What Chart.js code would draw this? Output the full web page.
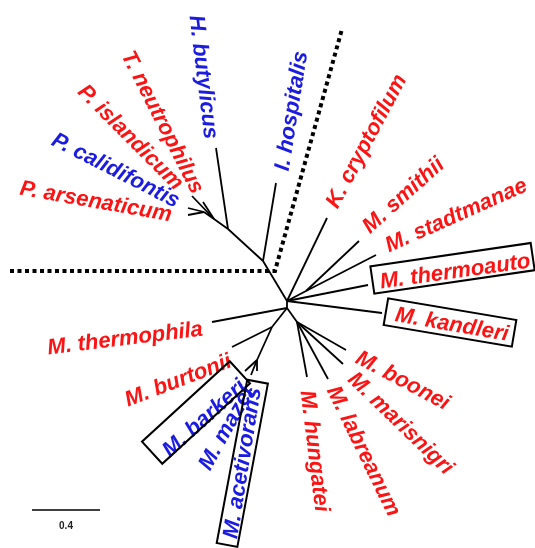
<!DOCTYPE html>
<html>
<head>
<meta charset="utf-8">
<script src="https://cdn.jsdelivr.net/npm/chart.js@4"></script>
<style>
  html, body { margin: 0; padding: 0; background: #ffffff; }
  #wrap { width: 535px; height: 548px; }
</style>
</head>
<body>
<div id="wrap"><canvas id="c" width="535" height="548"></canvas></div>
<script>
// ---------- DATA (tree layout coordinates, unrooted tree) ----------
// internal nodes
const innerName   = ['A', 'B', 'I', 'H', 'P', 'Q', 'S', 'C', 'D', 'E'];
const innerX      = [287, 287, 263, 228, 214, 204, 306, 272, 257, 297];
const innerY      = [301, 308, 261, 229, 219, 212, 291, 327, 360, 322];
const innerParent = [null, 'A', 'A', 'I', 'H', 'P', 'A', 'B', 'C', 'B'];

// leaves (taxa)
const taxa = ['H. butylicus', 'T. neutrophilus', 'P. islandicum', 'P. calidifontis', 'P. arsenaticum',
              'I. hospitalis', 'K. cryptofilum', 'M. smithii', 'M. stadtmanae', 'M. thermoauto',
              'M. kandleri', 'M. boonei', 'M. marisnigri', 'M. labreanum', 'M. hungatei',
              'M. thermophila', 'M. burtonii', 'M. barkeri', 'M. mazei', 'M. acetivorans'];
const taxaX      = [216, 192, 203, 188, 188, 276, 327, 359, 376, 368, 382, 346, 343, 328, 307, 212, 232, 245, 251, 257];
const taxaY      = [148, 196, 202, 208, 215, 183, 218, 241, 255, 285, 313, 350, 364, 379, 377, 322, 347, 371, 375, 371];
const taxaParent = ['H', 'P', 'P', 'Q', 'Q', 'I', 'A', 'S', 'S', 'A', 'A', 'E', 'E', 'E', 'E', 'B', 'C', 'D', 'D', 'D'];
const taxaSet    = [1, 0, 0, 1, 0, 1, 0, 0, 0, 0, 0, 0, 0, 0, 0, 0, 0, 1, 1, 1]; // 1 = blue set, 0 = red set
const taxaBoxed  = [0, 0, 0, 0, 0, 0, 0, 0, 0, 1, 1, 0, 0, 0, 0, 0, 0, 1, 0, 1];

// dotted divider
const dividerX = [10, 275, 342];
const dividerY = [271, 271, 29];

// scale bar
const scaleBarLabel = '0.4';
const scaleBarX = [32, 100];
const scaleBarY = [510, 510];

// ---------- LAYOUT (label placement) ----------
// [centerX, centerY, angleDeg]
const labelLayout = [
  [204, 77, 83], [163, 122, 63], [131, 137, 45], [116, 170, 27], [96, 201, 10],
  [291, 111, -81], [366, 141, -62], [403, 195, -42], [456, 215, -24], [455, 271, -8],
  [452, 324, 10], [403, 380, 28], [401, 423, 44], [364, 451, 64], [315, 451, 83],
  [125, 338, -7], [178, 380, -21], [204, 418, -42], [226, 428, -61], [242, 463, -81]
];
// boxes: [centerX, centerY, angleDeg, width, height] (null = none)
const boxLayout = [
  null, null, null, null, null, null, null, null, null,
  [452.5, 268.3, -8.3, 162, 27.5],
  [450, 322.5, 9.6, 130, 27],
  null, null, null, null, null, null,
  [196, 412.5, -42.5, 119, 30],
  null,
  [242.3, 463.3, -79.4, 166, 21]
];

const RED = '#fb1414';
const BLUE = '#1c1ce0';
const LABEL_FONT = 'italic bold 22px "Liberation Sans", Arial, sans-serif';

// ---------- build datasets ----------
function nodePos(name) {
  const i = innerName.indexOf(name);
  return { x: innerX[i], y: innerY[i] };
}
const datasets = [];
innerName.forEach((n, i) => {
  if (innerParent[i] === null) return;
  datasets.push({
    data: [nodePos(innerParent[i]), { x: innerX[i], y: innerY[i] }],
    showLine: true, pointRadius: 0, borderColor: '#000', borderWidth: 1.8, fill: false
  });
});
taxa.forEach((t, i) => {
  datasets.push({
    data: [nodePos(taxaParent[i]), { x: taxaX[i], y: taxaY[i] }],
    showLine: true, pointRadius: 0, borderColor: '#000', borderWidth: 1.8, fill: false
  });
});
datasets.push({
  data: dividerX.map((x, i) => ({ x: x, y: dividerY[i] })),
  showLine: true, pointRadius: 0, borderColor: '#000', borderWidth: 4,
  borderDash: [4, 3.5], borderCapStyle: 'butt', borderJoinStyle: 'miter', fill: false
});
datasets.push({
  data: scaleBarX.map((x, i) => ({ x: x, y: scaleBarY[i] })),
  showLine: true, pointRadius: 0, borderColor: '#000', borderWidth: 1.3, fill: false
});

const labelPlugin = {
  id: 'treeLabels',
  afterDatasetsDraw(chart) {
    const ctx = chart.ctx;
    const xs = chart.scales.x, ys = chart.scales.y;
    taxa.forEach((t, i) => {
      const [lx, ly, ang] = labelLayout[i];
      ctx.save();
      ctx.translate(xs.getPixelForValue(lx), ys.getPixelForValue(ly));
      ctx.rotate(ang * Math.PI / 180);
      ctx.font = LABEL_FONT;
      ctx.fillStyle = taxaSet[i] ? BLUE : RED;
      ctx.textAlign = 'center';
      ctx.textBaseline = 'middle';
      ctx.fillText(t, 0, 1);
      ctx.restore();
      if (taxaBoxed[i] && boxLayout[i]) {
        const [bx, by, bang, bw, bh] = boxLayout[i];
        ctx.save();
        ctx.translate(xs.getPixelForValue(bx), ys.getPixelForValue(by));
        ctx.rotate(bang * Math.PI / 180);
        ctx.strokeStyle = '#000';
        ctx.lineWidth = 2;
        ctx.strokeRect(-bw / 2, -bh / 2, bw, bh);
        ctx.restore();
      }
    });
    // scale bar label
    ctx.save();
    ctx.font = 'bold 10px "Liberation Sans", Arial, sans-serif';
    ctx.fillStyle = '#222';
    ctx.textAlign = 'center';
    ctx.textBaseline = 'middle';
    ctx.fillText(scaleBarLabel,
      xs.getPixelForValue((scaleBarX[0] + scaleBarX[1]) / 2),
      ys.getPixelForValue(scaleBarY[0] + 16));
    ctx.restore();
  }
};

new Chart(document.getElementById('c'), {
  type: 'scatter',
  data: { datasets: datasets },
  options: {
    responsive: false,
    animation: false,
    layout: { padding: 0 },
    plugins: { legend: { display: false }, tooltip: { enabled: false } },
    scales: {
      x: { type: 'linear', min: 0, max: 535, display: false },
      y: { type: 'linear', min: 0, max: 548, reverse: true, display: false }
    }
  },
  plugins: [labelPlugin]
});
</script>
</body>
</html>
